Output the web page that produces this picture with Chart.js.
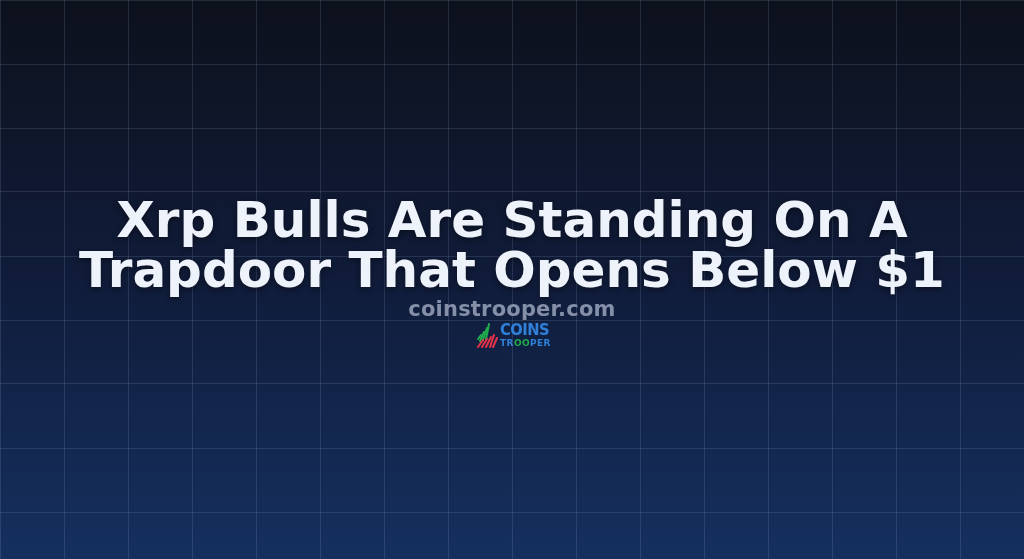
<!DOCTYPE html>
<html>
<head>
<meta charset="utf-8">
<script src="https://cdn.jsdelivr.net/npm/chart.js@4.4.1/dist/chart.umd.min.js"></script>
<style>
    html, body {
        margin: 0;
        padding: 0;
        width: 1024px;
        height: 559px;
        overflow: hidden;
    }
    body {
        background: linear-gradient(180deg, #0d111c 0%, #101c3a 50%, #15305f 100%);
        font-family: "DejaVu Sans", sans-serif;
    }
    #grade {
        position: absolute;
        left: 0;
        top: 0;
    }
    #titulo {
        position: absolute;
        left: 0;
        top: 195px;
        width: 1024px;
        text-align: center;
        font-weight: bold;
        font-size: 50px;
        line-height: 50px;
        color: #eef2fb;
        text-shadow: 0 2px 6px rgba(0, 0, 0, 0.45);
        white-space: nowrap;
    }
    #site {
        position: absolute;
        left: 0;
        top: 297px;
        width: 1024px;
        text-align: center;
        font-weight: bold;
        font-size: 21px;
        line-height: 24px;
        color: #8590a8;
        letter-spacing: 0.2px;
    }
    #logo {
        position: absolute;
        left: 476px;
        top: 321px;
        height: 28px;
        display: flex;
        align-items: center;
    }
    #logo-texto {
        margin-left: 1px;
        font-weight: bold;
        line-height: 1;
    }
    #logo-l1 {
        font-size: 16px;
        color: #2f80d8;
        letter-spacing: -0.6px;
        transform: scaleX(0.92);
        transform-origin: left center;
    }
    #logo-l2 {
        font-size: 9px;
        color: #2f80d8;
        letter-spacing: 0.4px;
        margin-top: 1px;
    }
    #logo-l2 .verde {
        color: #1fae4b;
    }
</style>
</head>
<body>
<canvas id="grade" width="1024" height="559"></canvas>
<div id="titulo"></div>
<div id="site"></div>
<div id="logo">
    <svg width="23" height="27" viewBox="0 0 23 27">
        <g stroke-width="2" stroke-linecap="round">
            <line x1="2" y1="17" x2="5" y2="13" stroke="#1fae4b"/>
            <line x1="4" y1="19" x2="8" y2="10" stroke="#1fae4b"/>
            <line x1="7" y1="18" x2="11" y2="6" stroke="#1fae4b"/>
            <line x1="10" y1="17" x2="13" y2="2" stroke="#1fae4b"/>
            <line x1="2" y1="25" x2="7" y2="18" stroke="#e8334a"/>
            <line x1="6" y1="25" x2="11" y2="17" stroke="#e8334a"/>
            <line x1="10" y1="25" x2="15" y2="15" stroke="#e8334a"/>
            <line x1="14" y1="25" x2="18" y2="13" stroke="#e8334a"/>
            <line x1="17" y1="25" x2="21" y2="16" stroke="#e8334a"/>
        </g>
    </svg>
    <div id="logo-texto">
        <div id="logo-l1"></div>
        <div id="logo-l2"></div>
    </div>
</div>
<script>
// Textos do cartão
let linhasTitulo = ["Xrp Bulls Are Standing On A", "Trapdoor That Opens Below $1"];
let nomeSite = "coinstrooper.com";
let logoLinha1 = "COINS";
let logoLinha2 = ["TR", "OO", "PER"];

// Grade de fundo - colunas e linhas (1 unidade = 64px)
let colunasGrade = [0, 1, 2, 3, 4, 5, 6, 7, 8, 9, 10, 11, 12, 13, 14, 15, 16];
let linhasGrade = [0, 1, 2, 3, 4, 5, 6, 7, 8];
let maxColunas = 16;
let maxLinhas = 559 / 64;

document.getElementById("titulo").innerHTML = linhasTitulo.join("<br>");
document.getElementById("site").innerText = nomeSite;
document.getElementById("logo-l1").innerText = logoLinha1;
document.getElementById("logo-l2").innerHTML =
    logoLinha2[0] + '<span class="verde">' + logoLinha2[1] + "</span>" + logoLinha2[2];

// Criando estrutura para plotar a grade - config
const configGrade = {
    type: "scatter",
    data: {
        datasets: []
    },
    options: {
        responsive: false,
        animation: false,
        layout: {
            padding: 0
        },
        plugins: {
            legend: {
                display: false
            },
            tooltip: {
                enabled: false
            }
        },
        scales: {
            x: {
                type: "linear",
                min: 0,
                max: maxColunas,
                afterBuildTicks: (eixo) => {
                    eixo.ticks = colunasGrade.map(v => ({ value: v }));
                },
                ticks: {
                    display: false
                },
                grid: {
                    color: "rgba(160, 180, 220, 0.16)",
                    lineWidth: 1,
                    drawTicks: false
                },
                border: {
                    display: false
                }
            },
            y: {
                type: "linear",
                min: 0,
                max: maxLinhas,
                reverse: true,
                afterBuildTicks: (eixo) => {
                    eixo.ticks = linhasGrade.map(v => ({ value: v }));
                },
                ticks: {
                    display: false
                },
                grid: {
                    color: "rgba(160, 180, 220, 0.16)",
                    lineWidth: 1,
                    drawTicks: false
                },
                border: {
                    display: false
                }
            }
        }
    }
};

// Adicionando gráfico criado no canvas
let graficoGrade = new Chart(
    document.getElementById("grade"),
    configGrade
);
</script>
</body>
</html>
